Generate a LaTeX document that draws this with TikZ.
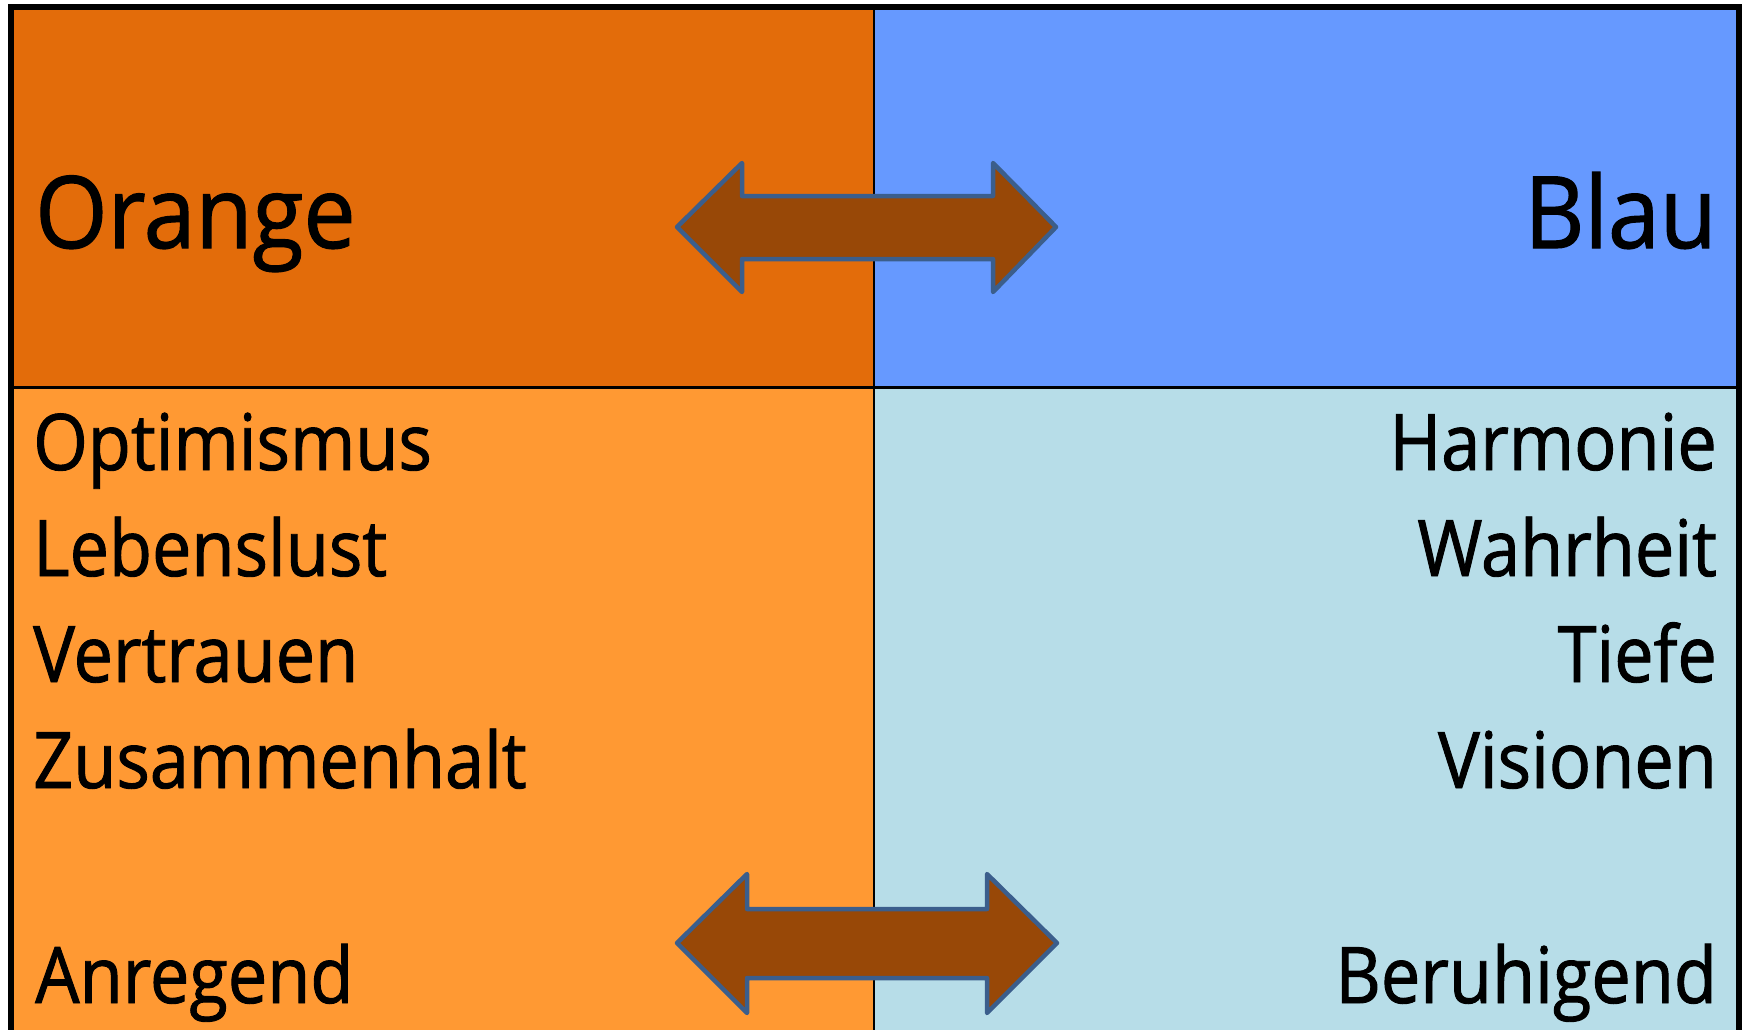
\documentclass[tikz,border=0pt]{standalone}
\usepackage{fontspec}
\newfontfamily\tfont[FakeStretch=0.93,FakeBold=1.2]{Open Sans}
\newfontfamily\bfont[FakeStretch=0.9,FakeBold=1.2]{Open Sans}
\definecolor{orDark}{HTML}{E36C0A}
\definecolor{orLight}{HTML}{FF9933}
\definecolor{blDark}{HTML}{6699FF}
\definecolor{blLight}{HTML}{B7DDE8}
\definecolor{arFill}{HTML}{984807}
\definecolor{arLine}{HTML}{3B5E8C}
\tikzset{
  title/.style={inner sep=0pt, font=\tfont\fontsize{100}{120}\selectfont},
  body/.style={inner sep=0pt, font=\bfont\fontsize{78}{94}\selectfont},
  bigarrow/.style={fill=arFill, draw=arLine, line width=4.5pt, line join=round},
}
\begin{document}
\begin{tikzpicture}[x=1pt,y=-1pt]
\useasboundingbox (0,0) rectangle (1747,1029);
\clip (0,0) rectangle (1747,1029);
\fill[orDark] (11,7) rectangle (874,387);
\fill[blDark] (874,7) rectangle (1739,387);
\fill[orLight] (11,387) rectangle (874,1040);
\fill[blLight] (874,387) rectangle (1739,1040);
\draw[line width=3pt] (11,387) -- (1739,387);
\draw[line width=2pt] (874,7) -- (874,1040);
\draw[line width=6pt] (11,1060) -- (11,7) -- (1739,7) -- (1739,1060);
% arrows
\draw[bigarrow] (677,227) -- (742,163) -- (742,196) -- (993,196) -- (993,163) -- (1056,227) -- (993,292) -- (993,259) -- (742,259) -- (742,292) -- cycle;
\draw[bigarrow] (677,943) -- (747,874) -- (747,909) -- (987,909) -- (987,874) -- (1057,943) -- (987,1013) -- (987,978) -- (747,978) -- (747,1013) -- cycle;
% titles
\node[title, anchor=base west] (orange) at (35,248) {Orange};
\node[title, anchor=base east] (blau) at (1717,248) {Blau};
% left list
\node[body, anchor=base west] (l1) at (33,470) {Optimismus};
\node[body, anchor=base west] (l2) at (33,576) {Lebenslust};
\node[body, anchor=base west] (l3) at (33,682) {Vertrauen};
\node[body, anchor=base west] (l4) at (33,788) {Zusammenhalt};
\node[body, anchor=base west] (l5) at (35,1003) {Anregend};
% right list
\node[body, anchor=base east] (r1) at (1717,470) {Harmonie};
\node[body, anchor=base east] (r2) at (1717,576) {Wahrheit};
\node[body, anchor=base east] (r3) at (1717,682) {Tiefe};
\node[body, anchor=base east] (r4) at (1717,788) {Visionen};
\node[body, anchor=base east] (r5) at (1717,1003) {Beruhigend};
\end{tikzpicture}
\end{document}
